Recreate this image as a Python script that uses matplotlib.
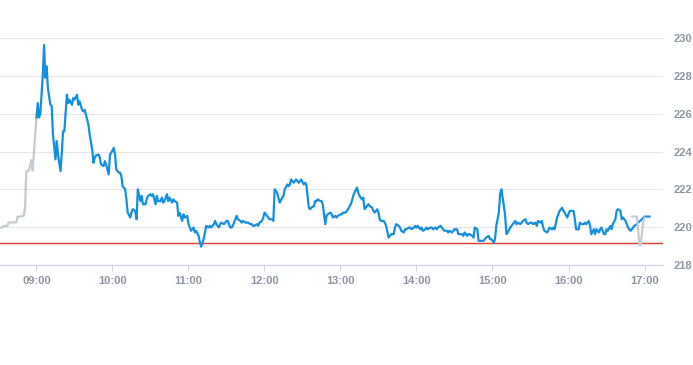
import matplotlib
matplotlib.use("Agg")
import matplotlib.pyplot as plt

# pre-market trades (grey)
pre_times = ["08:31", "08:33", "08:34", "08:37", "08:38", "08:44", "08:45", "08:50",
             "08:51", "08:52", "08:54", "08:56", "08:57", "08:59", "09:00"]
pre_prices = [219.98, 219.98, 220.07, 220.07, 220.25, 220.25, 220.54, 220.60,
              221.04, 222.96, 223.00, 223.55, 223.00, 224.90, 225.80]

# regular session (blue)
times = [
    "09:00", "09:01", "09:02", "09:03", "09:05", "09:06", "09:07", "09:08", "09:09", "09:11",
    "09:12", "09:13", "09:15", "09:16", "09:17", "09:19", "09:20", "09:21", "09:22", "09:24",
    "09:25", "09:26", "09:28", "09:29", "09:30", "09:32", "09:33", "09:34", "09:36", "09:37",
    "09:38", "09:40", "09:41", "09:42", "09:44", "09:45", "09:46", "09:47", "09:49", "09:50",
    "09:51", "09:53", "09:54", "09:55", "09:57", "09:58", "09:59",
    "10:01", "10:02", "10:03", "10:05", "10:06", "10:07", "10:08", "10:10", "10:11", "10:12",
    "10:14", "10:15", "10:16", "10:18", "10:19", "10:20", "10:22", "10:23", "10:24", "10:26",
    "10:27", "10:28", "10:30", "10:31", "10:32", "10:34", "10:35", "10:36", "10:38", "10:39",
    "10:40", "10:41", "10:43", "10:44", "10:45", "10:47", "10:48", "10:49", "10:51", "10:52",
    "10:53", "10:55", "10:56", "10:57", "10:59",
    "11:00", "11:01", "11:02", "11:04", "11:05", "11:06", "11:08", "11:09", "11:10", "11:12",
    "11:13", "11:14", "11:16", "11:17", "11:18", "11:20", "11:21", "11:22", "11:24", "11:25",
    "11:26", "11:28", "11:29", "11:30", "11:31", "11:33", "11:34", "11:35", "11:37", "11:38",
    "11:39", "11:41", "11:42", "11:43", "11:45", "11:46", "11:47", "11:49", "11:50", "11:51",
    "11:52", "11:54", "11:55", "11:56", "11:58", "11:59",
    "12:00", "12:02", "12:03", "12:04", "12:06", "12:07", "12:08", "12:10", "12:11", "12:12",
    "12:14", "12:15", "12:16", "12:18", "12:19", "12:20", "12:21", "12:23", "12:24", "12:25",
    "12:27", "12:28", "12:29", "12:31", "12:32", "12:33", "12:35", "12:36", "12:37", "12:39",
    "12:40", "12:41", "12:42", "12:44", "12:45", "12:46", "12:48", "12:49", "12:50", "12:52",
    "12:53", "12:54", "12:56", "12:57", "12:58",
    "13:00", "13:01", "13:02", "13:04", "13:05", "13:06", "13:08", "13:09", "13:10", "13:11",
    "13:13", "13:14", "13:15", "13:17", "13:18", "13:19", "13:21", "13:22", "13:23", "13:25",
    "13:26", "13:27", "13:29", "13:30", "13:31", "13:32", "13:34", "13:35", "13:36", "13:38",
    "13:39", "13:40", "13:42", "13:43", "13:44", "13:46", "13:47", "13:48", "13:50", "13:51",
    "13:52", "13:54", "13:55", "13:56", "13:58", "13:59",
    "14:00", "14:01", "14:03", "14:04", "14:05", "14:07", "14:08", "14:09", "14:11", "14:12",
    "14:13", "14:15", "14:16", "14:17", "14:19", "14:20", "14:21", "14:22", "14:24", "14:25",
    "14:26", "14:28", "14:29", "14:30", "14:32", "14:33", "14:34", "14:36", "14:37", "14:38",
    "14:40", "14:41", "14:42", "14:44", "14:45", "14:46", "14:48", "14:49", "14:50", "14:51",
    "14:53", "14:54", "14:55", "14:57", "14:58", "14:59",
    "15:01", "15:02", "15:03", "15:05", "15:06", "15:07", "15:09", "15:10", "15:11", "15:12",
    "15:14", "15:15", "15:16", "15:18", "15:19", "15:20", "15:22", "15:23", "15:24", "15:26",
    "15:27", "15:28", "15:30", "15:31", "15:32", "15:34", "15:35", "15:36", "15:38", "15:39",
    "15:40", "15:41", "15:43", "15:44", "15:45", "15:47", "15:48", "15:49", "15:51", "15:52",
    "15:53", "15:55", "15:56", "15:57", "15:59",
    "16:00", "16:01", "16:02", "16:04", "16:05", "16:06", "16:08", "16:09", "16:10", "16:12",
    "16:13", "16:14", "16:16", "16:17", "16:18", "16:20", "16:21", "16:22", "16:24", "16:25",
    "16:26", "16:28", "16:29", "16:30", "16:31", "16:33", "16:34", "16:35", "16:37", "16:38",
    "16:39", "16:41", "16:42", "16:43", "16:45", "16:46", "16:47", "16:49", "16:50", "16:51",
    "16:52", "16:54", "16:55", "16:58", "17:00", "17:04",
]
prices = [
    225.80, 226.56, 225.80, 226.00, 228.05, 229.63, 227.90, 228.50, 227.35, 226.47,
    226.40, 224.90, 223.58, 224.55, 223.84, 222.96, 223.93, 225.07, 225.07, 227.00,
    226.56, 226.74, 226.47, 226.82, 226.74, 227.00, 226.47, 226.65, 226.20, 226.12,
    226.20, 225.70, 225.42, 224.90, 224.10, 223.40, 223.67, 223.80, 223.84, 223.67,
    223.31, 223.23, 223.49, 223.31, 222.79, 223.84, 223.93,
    224.19, 223.84, 223.05, 222.88, 222.88, 222.70, 222.17, 222.00, 221.47, 220.77,
    220.51, 220.77, 220.95, 220.86, 220.42, 222.00, 221.38, 221.65, 221.21, 221.21,
    221.47, 221.65, 221.74, 221.65, 221.74, 221.21, 221.65, 221.38, 221.38, 221.56,
    221.30, 221.38, 221.74, 221.38, 221.56, 221.30, 221.47, 221.38, 221.30, 220.60,
    220.77, 220.33, 220.68, 220.51, 220.60,
    220.16, 219.98, 219.81, 219.98, 219.72, 219.81, 219.54, 219.20, 218.97, 219.37,
    219.72, 220.07, 219.98, 220.07, 219.98, 220.16, 220.33, 220.16, 219.98, 220.16,
    220.24, 220.16, 220.24, 220.33, 220.33, 219.98, 219.98, 220.07, 220.42, 220.60,
    220.42, 220.33, 220.24, 220.33, 220.24, 220.24, 220.24, 220.16, 220.16, 220.07,
    220.07, 220.16, 220.07, 220.24, 220.33, 220.51,
    220.77, 220.60, 220.51, 220.42, 220.42, 220.33, 222.00, 221.82, 221.56, 221.30,
    221.56, 221.65, 222.00, 222.26, 222.17, 222.26, 222.52, 222.35, 222.44, 222.52,
    222.35, 222.44, 222.52, 222.26, 222.35, 222.26, 221.03, 220.95, 221.03, 221.12,
    221.38, 221.38, 221.47, 221.38, 221.38, 221.21, 220.16, 220.60, 220.68, 220.77,
    220.68, 220.51, 220.60, 220.51, 220.60,
    220.68, 220.68, 220.77, 220.77, 220.86, 220.95, 221.21, 221.38, 221.65, 221.82,
    222.09, 221.82, 221.65, 221.47, 221.56, 220.95, 221.12, 221.21, 221.12, 221.03,
    220.86, 220.77, 220.95, 220.77, 220.42, 220.33, 220.33, 220.24, 220.07, 219.45,
    219.54, 219.63, 219.63, 219.98, 220.16, 220.07, 219.98, 219.81, 219.72, 219.89,
    219.89, 219.98, 219.98, 219.89, 219.98, 220.07,
    219.98, 220.07, 219.89, 219.98, 219.81, 219.89, 219.98, 219.89, 219.98, 219.98,
    219.89, 219.98, 219.89, 219.98, 220.07, 219.98, 219.89, 219.81, 219.81, 219.72,
    219.81, 219.72, 219.81, 219.89, 219.89, 219.63, 219.63, 219.63, 219.54, 219.72,
    219.54, 219.63, 219.63, 219.54, 219.45, 219.98, 219.89, 219.28, 219.28, 219.28,
    219.28, 219.37, 219.45, 219.54, 219.37, 219.37,
    219.19, 219.37, 220.07, 220.77, 221.74, 222.00, 221.12, 220.60, 219.63, 219.72,
    219.98, 220.07, 220.16, 220.33, 220.16, 220.24, 220.16, 220.24, 220.33, 220.42,
    220.24, 220.16, 220.24, 220.24, 220.16, 220.24, 220.07, 220.33, 220.24, 220.33,
    219.98, 219.81, 219.72, 219.81, 219.98, 219.89, 219.98, 219.89, 220.51, 220.68,
    220.86, 221.03, 220.86, 220.77, 220.51,
    220.68, 220.86, 220.86, 220.86, 220.42, 219.89, 219.89, 220.24, 220.16, 220.16,
    220.24, 220.16, 220.33, 220.07, 219.63, 219.89, 219.63, 219.89, 219.72, 219.89,
    219.98, 219.63, 219.63, 219.89, 219.81, 220.07, 219.89, 220.16, 220.42, 220.86,
    220.95, 220.86, 220.42, 220.51, 220.33, 220.16, 219.98, 219.81, 219.89, 219.98,
    220.07, 220.16, 220.24, 220.42, 220.56, 220.56,
]

# after-hours trades (grey)
post_times = ["16:50", "16:54", "16:56", "16:57", "16:59", "17:00"]
post_prices = [220.56, 220.56, 219.05, 219.05, 220.30, 220.50]

prev_close = 219.15

hour_ticks = [9, 10, 11, 12, 13, 14, 15, 16, 17]
price_ticks = [218, 220, 222, 224, 226, 228, 230]


def to_hours(labels):
    out = []
    for t in labels:
        h, m = t.split(":")
        out.append(int(h) + int(m) / 60.0)
    return out


label_color = "#8a96a3"

fig = plt.figure(figsize=(6.93, 3.65), dpi=100)
ax = fig.add_axes([0.0, 1 - 265 / 365, 663 / 693, (265 - 38) / 365])

ax.plot(to_hours(pre_times), pre_prices, color="#c3cbd3", lw=1.6, solid_joinstyle="round", zorder=3)
ax.plot(to_hours(times), prices, color="#148fe0", lw=1.6, solid_joinstyle="round", zorder=4)
ax.plot(to_hours(post_times), post_prices, color="#c3cbd3", lw=1.6, solid_joinstyle="round", zorder=5)
ax.axhline(prev_close, color="#e03a2c", lw=1.0, zorder=2)

ax.set_xlim(8 + 31.2 / 60, 17 + 14.6 / 60)
ax.set_ylim(218, 230)

ax.set_xticks(hour_ticks)
ax.set_xticklabels(["%02d:00" % h for h in hour_ticks])
ax.set_yticks(price_ticks)
ax.yaxis.tick_right()

ax.grid(axis="y", color="#e6e6e6", lw=0.8)
ax.set_axisbelow(True)
for side in ["top", "left", "right"]:
    ax.spines[side].set_visible(False)
ax.spines["bottom"].set_color("#ccd6eb")
ax.spines["bottom"].set_linewidth(0.8)

ax.tick_params(axis="x", length=4, width=0.8, color="#ccd6eb", pad=4,
               labelsize=8, labelcolor=label_color)
ax.tick_params(axis="y", length=0, pad=7.5, labelsize=8, labelcolor=label_color)
for lab in ax.get_xticklabels() + ax.get_yticklabels():
    lab.set_fontfamily("Liberation Sans")
    lab.set_fontweight("bold")

fig.savefig("out.png", dpi=100)
